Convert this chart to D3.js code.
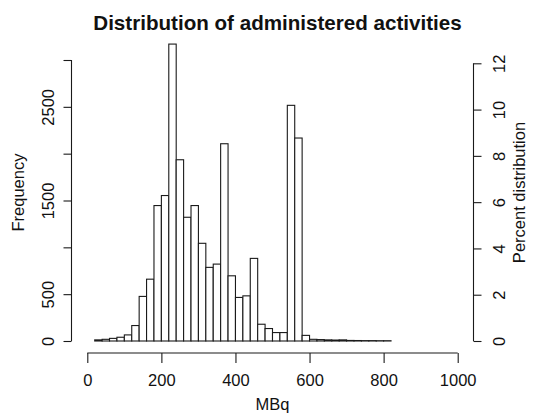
<!DOCTYPE html>
<html><head><meta charset="utf-8">
<script src="https://cdn.jsdelivr.net/npm/d3@7"></script>
<style>
body{margin:0;background:#fff}
svg{display:block}
text{font-family:"Liberation Sans",Arial,Helvetica,sans-serif;fill:#111}
</style>
</head><body>
<svg id="c" width="535" height="414"></svg>
<script>
// ---- data ----
const binStarts = [20,40,60,80,100,120,140,160,180,200,220,240,260,280,300,320,340,360,380,400,
                   420,440,460,480,500,520,540,560,580,600,620,640,660,680,700,720,740,760,780,800];
const binWidth = 20;
const frequencies = [12,18,28,40,65,165,476,660,1446,1553,3170,1935,1321,1446,1043,786,821,2106,696,465,
                     482,882,179,133,90,90,2516,2167,60,18,15,12,10,12,6,5,4,4,3,3];
const xTicks = [0,200,400,600,800,1000];
const freqTicks = [0,500,1000,1500,2000,2500,3000];
const freqTickLabels = [0,500,1500,2500];
const pctTicks = [0,2,4,6,8,10,12];
const title = "Distribution of administered activities";
const xLabel = "MBq", yLabel = "Frequency", y2Label = "Percent distribution";

// ---- layout ----
const svg = d3.select("#c");
const x = d3.scaleLinear().domain([0,1000]).range([87.3,457.7]);
const y = d3.scaleLinear().domain([0,3000]).range([341,60]);
const y2 = d3.scaleLinear().domain([0,12]).range([341,63.3]);
const leftX = 71.5, rightX = 473.5, bottomY = 353;
const fs = 16.5;
const stroke = "#1a1a1a";
const fontStack = '"Liberation Sans",Arial,Helvetica,sans-serif';

// bars
svg.append("g").selectAll("rect").data(binStarts).join("rect")
  .attr("x", (d)=>x(d))
  .attr("width", (d)=>x(d+binWidth)-x(d))
  .attr("y", (d,i)=>y(frequencies[i]))
  .attr("height", (d,i)=>y(0)-y(frequencies[i]))
  .attr("fill","#fff").attr("stroke",stroke).attr("stroke-width",1.1);

function styleAxis(g){
  g.selectAll("path,line").attr("stroke",stroke).attr("stroke-width",1.1);
  g.selectAll("text").attr("fill","#111").style("font-size",fs+"px").style("font-family",fontStack);
}

// x axis
const gx = svg.append("g").attr("transform",`translate(0,${bottomY})`)
  .call(d3.axisBottom(x).tickValues(xTicks).tickSize(10).tickSizeOuter(0)
        .tickFormat(d=>String(d)));
gx.select(".domain").attr("d",`M${x(0)},0H${x(1000)}`);
styleAxis(gx);
gx.selectAll("text").attr("y",33).attr("dy",0);

// left axis
const gy = svg.append("g").attr("transform",`translate(${leftX},0)`)
  .call(d3.axisLeft(y).tickValues(freqTicks).tickSize(8).tickSizeOuter(0)
        .tickFormat(d=>freqTickLabels.includes(d)?String(d):""));
gy.select(".domain").attr("d",`M0,${y(0)}V${y(3000)}`);
styleAxis(gy);
gy.selectAll("text").attr("transform","rotate(-90)").attr("x",0).attr("y",-17.5)
  .attr("dy",0).attr("text-anchor","middle");

// right axis
const gy2 = svg.append("g").attr("transform",`translate(${rightX},0)`)
  .call(d3.axisRight(y2).tickValues(pctTicks).tickSize(8).tickSizeOuter(0)
        .tickFormat(d=>String(d)));
gy2.select(".domain").attr("d",`M0,${y2(0)}V${y2(12)}`);
styleAxis(gy2);
gy2.selectAll("text").attr("transform","rotate(-90)").attr("x",0).attr("y",31.5)
  .attr("dy",0).attr("text-anchor","middle");

// titles
const cx = (leftX+rightX)/2, cy = 192.5;
svg.append("text").attr("x",277.5).attr("y",30).attr("text-anchor","middle")
  .style("font-size","20.6px").style("font-weight","bold").text(title);
svg.append("text").attr("x",cx).attr("y",410).attr("text-anchor","middle")
  .style("font-size",fs+"px").text(xLabel);
svg.append("text").attr("transform",`translate(24,${cy}) rotate(-90)`).attr("text-anchor","middle")
  .style("font-size",fs+"px").text(yLabel);
svg.append("text").attr("transform",`translate(525,${cy}) rotate(-90)`).attr("text-anchor","middle")
  .style("font-size",fs+"px").text(y2Label);
</script>
</body></html>
